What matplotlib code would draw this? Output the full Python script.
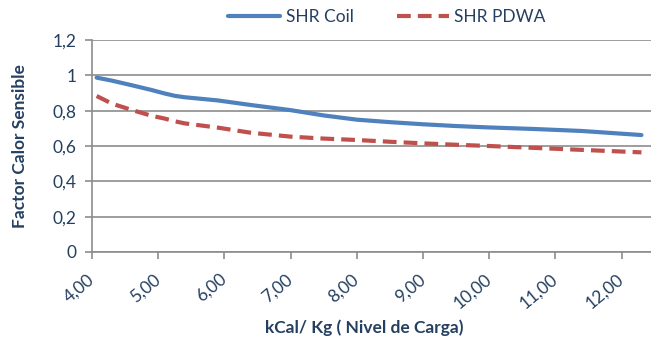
import matplotlib.pyplot as plt

plt.rcParams['font.family'] = ['Lato', 'DejaVu Sans']

# carga (kcal/kg) y factores de calor sensible
carga = [4.07, 4.3, 4.6, 4.9, 5.1, 5.25, 5.4, 5.9, 6.4, 7.0, 7.5, 8.0, 8.5, 9.0, 9.5, 10.0, 10.7, 11.4, 12.3]
shr_coil = [0.987, 0.97, 0.944, 0.917, 0.897, 0.884, 0.876, 0.858, 0.832, 0.803, 0.773, 0.749, 0.735,
            0.723, 0.713, 0.705, 0.696, 0.685, 0.662]
shr_pdwa = [0.883, 0.84, 0.804, 0.771, 0.755, 0.740, 0.728, 0.704, 0.675, 0.653, 0.642, 0.634, 0.624,
            0.615, 0.607, 0.600, 0.589, 0.578, 0.564]

xticks = [4, 5, 6, 7, 8, 9, 10, 11, 12]
yticks = [0, 0.2, 0.4, 0.6, 0.8, 1.0, 1.2]
ylabels = ['0', '0,2', '0,4', '0,6', '0,8', '1', '1,2']

navy = '#243F60'
grid = '#8C8C8C'
fs = 12.5

fig = plt.figure(figsize=(6.51, 3.45), dpi=100)
ax = fig.add_axes([92 / 651, 1 - 252 / 345, (651 - 92) / 651, (252 - 40) / 345])

ax.plot(carga, shr_coil, color='#4F81BD', lw=3, label='SHR Coil', solid_capstyle='round')
ax.plot(carga, shr_pdwa, color='#C0504D', lw=3, ls=(0, (3.3, 1.7)), label='SHR PDWA')

ax.set_xlim(4, 4 + (651 - 92) / 66.2)
ax.set_ylim(0, 1.2)
ax.set_xticks(xticks)
ax.set_xticklabels(['%d,00' % v for v in xticks], rotation=40, ha='right', va='center',
                   rotation_mode='anchor', color=navy, fontsize=fs)
ax.set_yticks(yticks)
ax.set_yticklabels(ylabels, color=navy, fontsize=fs)
ax.yaxis.grid(True, color=grid, lw=1.2)
ax.set_axisbelow(True)
for s in ['top', 'right']:
    ax.spines[s].set_visible(False)
for s in ['left', 'bottom']:
    ax.spines[s].set_color(grid)
    ax.spines[s].set_linewidth(1.2)
ax.tick_params(axis='both', color=grid, length=5, width=1.2)
ax.tick_params(axis='x', pad=13)
ax.tick_params(axis='y', pad=6)

fig.text(364 / 651, 1 - 328 / 345, 'kCal/ Kg ( Nivel de Carga)', fontweight='bold', color=navy,
         fontsize=fs, ha='center', va='center')
ax.set_ylabel('Factor Calor Sensible', fontweight='bold', color=navy, fontsize=fs, labelpad=18)

fig.legend(loc='center', bbox_to_anchor=(387 / 651, 1 - 17 / 345), ncol=2, frameon=False,
           fontsize=fs, labelcolor=navy, handlelength=3.0, columnspacing=2.5, handletextpad=0.3)

fig.savefig('out.png', dpi=100)
